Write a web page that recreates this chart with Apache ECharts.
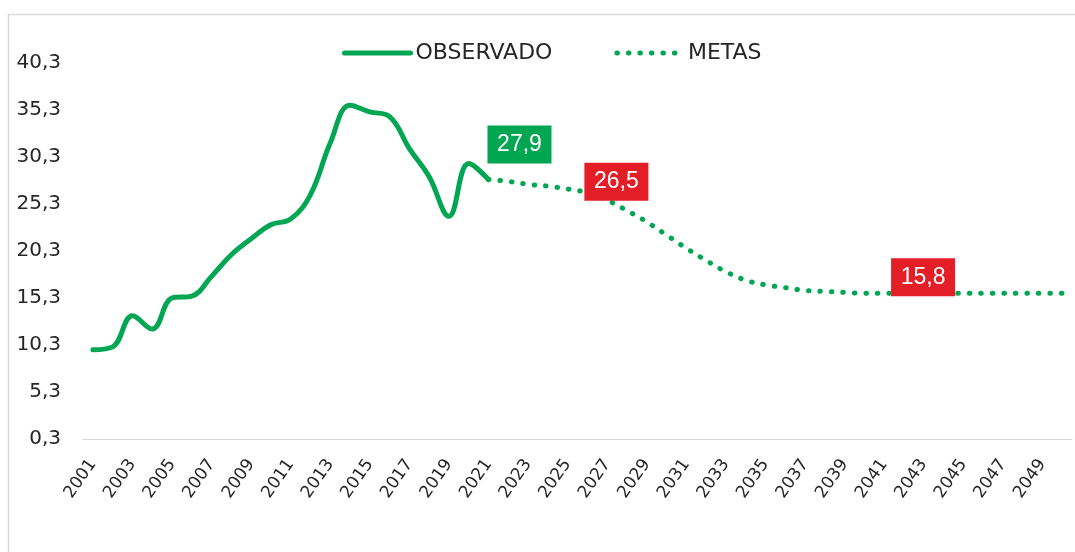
<!DOCTYPE html>
<html>
<head>
<meta charset="utf-8">
<title>Observado x Metas</title>
<script src="https://cdn.jsdelivr.net/npm/echarts@6/dist/echarts.min.js"></script>
<style>
  html, body { margin: 0; padding: 0; background: #fff; }
  #chart { width: 1075px; height: 552px; }
</style>
</head>
<body>
<div id="chart"></div>
<script>
// anos do eixo x
var years = ['2001','2002','2003','2004','2005','2006','2007','2008','2009','2010',
  '2011','2012','2013','2014','2015','2016','2017','2018','2019','2020',
  '2021','2022','2023','2024','2025','2026','2027','2028','2029','2030',
  '2031','2032','2033','2034','2035','2036','2037','2038','2039','2040',
  '2041','2042','2043','2044','2045','2046','2047','2048','2049','2050'];

// 2001 - 2021
var observado = [9.8, 10.1, 13.4, 12.0, 15.3, 15.5, 17.6, 19.9, 21.6, 23.1,
  23.7, 26.3, 31.8, 35.8, 35.1, 34.6, 31.2, 28.2, 24.0, 29.6, 27.9];

// 2021 - 2050
var metas = [27.9, 27.7, 27.4, 27.2, 26.9, 26.5, 25.7, 24.6, 23.4, 22.0,
  20.6, 19.3, 18.1, 17.2, 16.7, 16.4, 16.1, 16.0, 15.9, 15.8,
  15.8, 15.8, 15.8, 15.8, 15.8, 15.8, 15.8, 15.8, 15.8, 15.8];

var yTicks = [0.3, 5.3, 10.3, 15.3, 20.3, 25.3, 30.3, 35.3, 40.3];

// rotulos destacados
var metaYears = ['2026', '2041'];
var metaValues = [26.5, 15.8];

var green = '#00a651';
var red = '#e41e26';

function fmt(v) {
  return Number(v).toFixed(1).replace('.', ',');
}

var metasData = new Array(years.length - metas.length).fill('-').concat(metas);

var metaOffsets = [[29, -11], [39, -16]];
var metaPoints = metaYears.map(function (y, i) {
  return { coord: [y, metaValues[i]], value: metaValues[i], symbolOffset: metaOffsets[i] };
});

var chart = echarts.init(document.getElementById('chart'));

var option = {
  animation: false,
  backgroundColor: '#fff',
  graphic: [{
    type: 'rect',
    silent: true,
    z: -1,
    shape: { x: 8.5, y: 14.5, width: 1100, height: 600 },
    style: { fill: 'none', stroke: '#d9d9d9', lineWidth: 1.5 }
  }],
  legend: {
    top: 37,
    left: 337,
    itemWidth: 66,
    itemHeight: 20,
    itemGap: 62,
    data: ['OBSERVADO', 'METAS'],
    itemStyle: { opacity: 0 },
    lineStyle: { width: 5 },
    textStyle: {
      fontFamily: 'DejaVu Sans',
      fontSize: 22,
      color: '#262626'
    }
  },
  grid: { left: 83, right: 3, top: 63, bottom: 113 },
  xAxis: {
    type: 'category',
    data: years,
    axisLine: { lineStyle: { color: '#d9d9d9', width: 1 } },
    axisTick: { show: false },
    axisLabel: {
      interval: 1,
      rotate: 55,
      margin: 22,
      fontFamily: 'DejaVu Sans',
      fontSize: 17,
      color: '#262626'
    }
  },
  yAxis: {
    type: 'value',
    min: 0.3,
    max: 40.3,
    splitLine: { show: false },
    axisLine: { show: false },
    axisTick: { show: false },
    axisLabel: {
      customValues: yTicks,
      margin: 22,
      fontFamily: 'DejaVu Sans',
      fontSize: 20,
      color: '#262626',
      formatter: fmt
    }
  },
  series: [
    {
      name: 'OBSERVADO',
      type: 'line',
      data: observado,
      smooth: 0.4,
      symbol: 'none',
      color: green,
      lineStyle: { color: green, width: 5, cap: 'round' },
      markPoint: {
        symbol: 'rect',
        symbolSize: [64, 38],
        symbolOffset: [31, -35],
        itemStyle: { color: green },
        label: {
          show: true,
          color: '#fff',
          fontFamily: 'Liberation Sans',
          fontSize: 23,
          formatter: function (p) { return fmt(p.value); }
        },
        data: [{ coord: ['2021', observado[observado.length - 1]], value: observado[observado.length - 1] }]
      }
    },
    {
      name: 'METAS',
      type: 'line',
      data: metasData,
      smooth: 0.4,
      symbol: 'none',
      color: green,
      lineStyle: { color: green, width: 5, type: [0.5, 11], cap: 'round' },
      markPoint: {
        symbol: 'rect',
        symbolSize: [64, 38],
        itemStyle: { color: red },
        label: {
          show: true,
          color: '#fff',
          fontFamily: 'Liberation Sans',
          fontSize: 23,
          formatter: function (p) { return fmt(p.value); }
        },
        data: metaPoints
      }
    }
  ]
};

chart.setOption(option);
</script>
</body>
</html>
